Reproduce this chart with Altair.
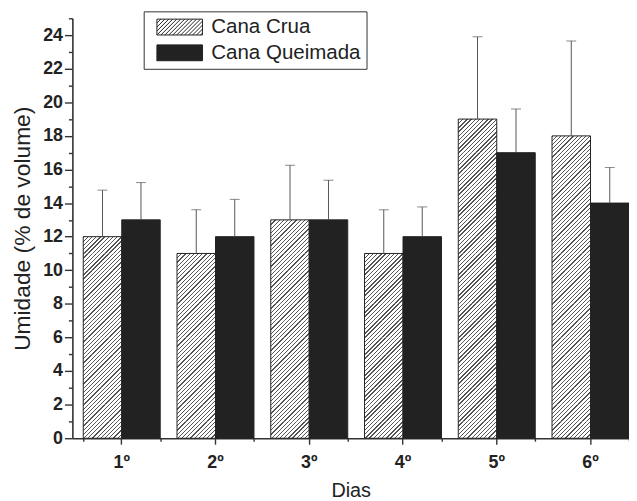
import altair as alt
import pandas as pd

# ---------------- data ----------------
dias = ["1º", "2º", "3º", "4º", "5º", "6º"]
series = ["Cana Crua", "Cana Queimada"]
crua = [12, 11, 13, 11, 19, 18]
crua_erro = [2.77, 2.6, 3.25, 2.6, 4.9, 5.65]
queimada = [13, 12, 13, 12, 17, 14]
queimada_erro = [2.22, 2.22, 2.36, 1.77, 2.6, 2.12]
y_major = list(range(0, 25, 2))
y_minor = list(range(1, 26, 2))

# ---------------- layout / style ----------------
W, H = 562, 424
Y_MAX = 25
PI, PO = 0.179, 0.058
FONT = "Liberation Sans"
INK = "#222222"
GREY = "#555555"

rows = []
for d, c, ce, q, qe in zip(dias, crua, crua_erro, queimada, queimada_erro):
    rows.append({"dia": d, "serie": series[0], "valor": c, "erro": ce})
    rows.append({"dia": d, "serie": series[1], "valor": q, "erro": qe})
df = pd.DataFrame(rows)

# the hatched bars are filled in one-unit slices so that the hatch pattern stays crisp
slices = []
for d, v in zip(dias, crua):
    k = 0.0
    while k < v:
        slices.append({"dia": d, "serie": series[0], "y0": k, "y1": min(k + 1, v)})
        k += 1
df_slices = pd.DataFrame(slices)

step = W / (len(dias) - PI + 2 * PO)
bar_w = step * (1 - PI) / 2
unit_h = H / Y_MAX


def hatch_gradient(w, h, stripes_per_slice=4, line=1.3, ink="#555555", paper="#ffffff"):
    """Diagonal '/' hatching as a linear gradient with hard stops (t = (X+Y)/(w+h))."""
    period = h / stripes_per_slice
    L = w + h
    s = L / (w * w + h * h)
    stops = []
    k = 0
    while True:
        a = k * period / L
        if a >= 1:
            break
        b = min((k * period + line) / L, 1.0)
        stops += [
            {"offset": a, "color": paper},
            {"offset": a, "color": ink},
            {"offset": b, "color": ink},
            {"offset": b, "color": paper},
        ]
        k += 1
    return {"gradient": "linear", "x1": 0, "y1": 0, "x2": s * w, "y2": s * h, "stops": stops}


# legend swatch: a 46x16 box with '/' hatch lines (unit = 8 px)
def hatch_symbol(x0=-0.3125, width_units=5.75, period_units=0.5):
    x1 = x0 + width_units
    p = f"M{x0:.3f},-1H{x1:.3f}V1H{x0:.3f}Z"
    c = x0 - 2
    while c < x1:
        u0 = max(0.0, x0 - c)
        u1 = min(2.0, x1 - c)
        if u1 - u0 > 0.05:
            p += f"M{c + u0:.3f},{1 - u0:.3f}L{c + u1:.3f},{1 - u1:.3f}"
        c += period_units
    return p


x_scale = alt.Scale(domain=dias, paddingInner=PI, paddingOuter=PO, align=1)
xo_enc = alt.XOffset("serie:N", sort=series,
                     scale=alt.Scale(domain=series, paddingInner=0, paddingOuter=0))
y_scale = alt.Scale(domain=[0, Y_MAX], nice=False, zero=True)

base = alt.Chart(df)

hatch = alt.Chart(df_slices).mark_bar(strokeWidth=0).encode(
    x=alt.X("dia:N", sort=dias, scale=x_scale, axis=None),
    xOffset=xo_enc,
    y=alt.Y("y0:Q", scale=y_scale, axis=None),
    y2="y1:Q",
    fill=alt.value(hatch_gradient(bar_w, unit_h)),
)

bars = base.mark_bar(stroke=INK, strokeWidth=1).encode(
    x=alt.X("dia:N", sort=dias, scale=x_scale,
            axis=alt.Axis(title="Dias", orient="bottom", labelAngle=0, tickSize=6,
                          labelPadding=10, titlePadding=9, titleFontSize=20)),
    xOffset=xo_enc,
    y=alt.Y("valor:Q", scale=y_scale,
            axis=alt.Axis(title="Umidade (% de volume)", orient="left", values=y_major,
                          tickSize=8, labelPadding=2, titlePadding=8, titleFontSize=23)),
    fill=alt.Fill("serie:N", sort=series,
                  scale=alt.Scale(domain=series, range=["transparent", INK]),
                  legend=alt.Legend(orient="none", legendX=72, legendY=-7, title=None,
                                    symbolType=hatch_symbol(), symbolSize=256,
                                    symbolStrokeColor=INK, symbolStrokeWidth=1,
                                    symbolOpacity=1,
                                    labelFont=FONT, labelFontSize=20.7, labelColor="#222222",
                                    labelOffset=42, padding=5.5, rowPadding=4,
                                    strokeColor="#333333", fillColor="#ffffff")),
)

err = base.transform_calculate(topo="datum.valor + datum.erro")

rules = err.mark_rule(color=GREY, strokeWidth=1).encode(
    x=alt.X("dia:N", sort=dias, scale=x_scale,
            axis=alt.Axis(title=None, orient="bottom", labels=False, domain=False,
                          tickBand="extent", tickSize=3)),
    xOffset=xo_enc,
    y=alt.Y("valor:Q", scale=y_scale,
            axis=alt.Axis(title=None, orient="left", values=y_minor, labels=False,
                          domain=False, tickSize=4)),
    y2="topo:Q",
)

caps = err.mark_tick(color=GREY, thickness=1, size=10).encode(
    x=alt.X("dia:N", sort=dias, scale=x_scale, axis=None),
    xOffset=xo_enc,
    y=alt.Y("topo:Q", scale=y_scale, axis=None),
)

chart = alt.layer(hatch, bars, rules, caps).resolve_axis(
    x="independent", y="independent"
).properties(
    width=W, height=H,
    autosize=alt.AutoSizeParams(type="none"),
    padding={"left": 65, "top": 8, "right": 0, "bottom": 64},
).configure_view(stroke=None).configure_axis(
    grid=False,
    domainColor="#333333", domainWidth=1.6,
    tickColor="#333333", tickWidth=1.4,
    labelFont=FONT, labelFontSize=18, labelFontWeight="bold", labelColor="#222222",
    titleFont=FONT, titleFontWeight="normal", titleColor="#222222",
)

chart.save("out.html", embed_options={"renderer": "svg", "actions": False})
